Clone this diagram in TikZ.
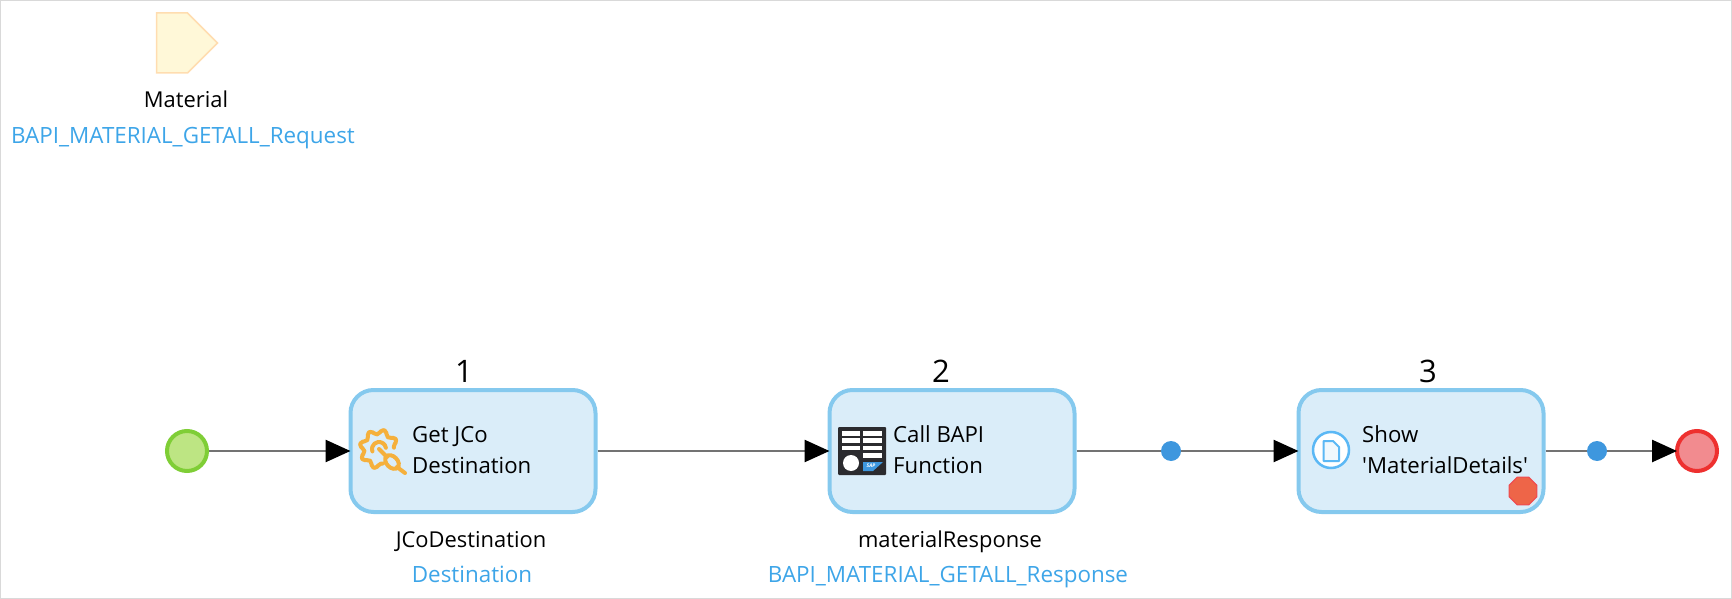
\documentclass[tikz,border=0pt]{standalone}
\usepackage{fontspec}
\setmainfont{Open Sans}
\usetikzlibrary{arrows.meta,shapes.geometric,shapes.symbols}
\definecolor{paramfill}{HTML}{FFF8D8}
\definecolor{paramline}{HTML}{FFDDB0}
\definecolor{boxfill}{HTML}{DAEDF9}
\definecolor{boxline}{HTML}{85C9EE}
\definecolor{startfill}{HTML}{BDE583}
\definecolor{startline}{HTML}{7FCE36}
\definecolor{endfill}{HTML}{F28B8F}
\definecolor{endline}{HTML}{EE302F}
\definecolor{dotblue}{HTML}{3E97DE}
\definecolor{typeblue}{HTML}{3DA5E8}
\definecolor{gearorange}{HTML}{F5B03C}
\definecolor{docblue}{HTML}{5BB8F5}
\definecolor{tabledark}{HTML}{2B2B2F}
\definecolor{stopfill}{HTML}{EE6548}
\definecolor{stopline}{HTML}{EE4A50}
\tikzset{
  actionbox/.style={rectangle, rounded corners=23pt, minimum width=245pt, minimum height=122pt, fill=boxfill, line width=4pt, draw=boxline},
  paramshape/.style={signal, signal to=east, signal pointer angle=90, minimum width=61pt, minimum height=60pt, fill=paramfill, line width=1.5pt, draw=paramline},
  startevent/.style={circle, minimum size=40pt, fill=startfill, line width=4pt, draw=startline},
  endevent/.style={circle, minimum size=40pt, fill=endfill, line width=4pt, draw=endline},
  mergedot/.style={circle, minimum size=20pt, fill=dotblue},
  boxtext/.style={anchor=west, align=left, font=\fontsize{22.2pt}{31pt}\selectfont},
  varname/.style={anchor=base, font=\fontsize{21.9pt}{25pt}\selectfont},
  vartype/.style={anchor=base, font=\fontsize{22.4pt}{25pt}\selectfont, text=typeblue},
  stepnumber/.style={anchor=base, font=\fontsize{31pt}{34pt}\selectfont},
  flow/.style={line width=2.6pt, color=black!55},
  flowtip/.style={flow, shorten >=-2pt, -{Triangle[length=25pt,width=22pt,color=black]}},
  gearpath/.style={line width=4pt, color=gearorange, line join=round, line cap=round},
}
\begin{document}
\begin{tikzpicture}
[every node/.style={inner sep=0pt}]
\useasboundingbox (0pt,0pt) rectangle (1732pt,-599pt);
\draw [line width=2pt, color=black!15] (0pt,0pt) rectangle (1732pt,-599pt);
% parameter
\node (material) [paramshape] at (172pt, -43pt) {};
\node (materialname) [varname] at (186pt, -108pt) {Material};
\node (materialtype) [vartype] at (183pt, -143pt) {BAPI\_MATERIAL\_GETALL\_Request};
% flow
\node (start) [startevent] at (187pt, -451pt) {};
\node (jco) [actionbox] at (473pt, -451pt) {};
\node (bapi) [actionbox] at (952pt, -451pt) {};
\node (show) [actionbox] at (1421pt, -451pt) {};
\node (dotone) [mergedot] at (1171pt, -451pt) {};
\node (dottwo) [mergedot] at (1597pt, -451pt) {};
\node (end) [endevent] at (1697pt, -451pt) {};
\node (stop) [regular polygon, regular polygon sides=8, minimum size=30pt, fill=stopfill, line width=1pt, draw=stopline] at (1523pt, -491pt) {};
\draw [flowtip] (start) to (jco);
\draw [flowtip] (jco) to (bapi);
\draw [flow] (bapi) to (dotone);
\draw [flowtip] (dotone) to (show);
\draw [flow] (show) to (dottwo);
\draw [flowtip] (dottwo) to (end);
% numbers
\node (numone) [stepnumber] at (464pt, -382pt) {1};
\node (numtwo) [stepnumber] at (941pt, -382pt) {2};
\node (numthree) [stepnumber] at (1428pt, -382pt) {3};
% box texts
\node (jcotext) [boxtext] at (412pt, -450pt) {Get JCo\\Destination};
\node (bapitext) [boxtext] at (893pt, -450pt) {Call BAPI\\Function};
\node (showtext) [boxtext] at (1362pt, -450pt) {Show\\\textquotesingle MaterialDetails\textquotesingle};
% output variables
\node (jconame) [varname] at (471pt, -547pt) {JCoDestination};
\node (jcotype) [vartype] at (472pt, -582pt) {Destination};
\node (bapiname) [varname] at (950pt, -547pt) {materialResponse};
\node (bapitype) [vartype] at (948pt, -582pt) {BAPI\_MATERIAL\_GETALL\_Response};
% gear icon
\begin{scope}[shift={(379pt,-449pt)}]
\draw [gearpath, rounded corners=2pt] (5:15pt) \foreach \a in {30,75,120,165,210,255} { -- (\a-14:15pt) -- (\a-8:19.5pt) -- (\a+8:19.5pt) -- (\a+14:15pt)} -- (285:15pt);
\draw [gearpath] (10:7pt) arc [start angle=10, end angle=200, radius=7pt];
\draw [gearpath] (0pt,0pt) -- (8pt,-8pt);
\draw [gearpath, rotate around={-45:(13pt,-13pt)}] (13pt,-13pt) ellipse [x radius=8pt, y radius=5.5pt];
\draw [gearpath] (18pt,-18pt) -- (26pt,-24pt);
\end{scope}
% table icon
\fill [tabledark, rounded corners=1pt] (838pt,-427pt) rectangle (886pt,-475pt);
\fill [white] (842pt,-431pt) rectangle (860pt,-436pt);
\fill [white] (863pt,-431pt) rectangle (882pt,-436pt);
\fill [white] (842pt,-438pt) rectangle (860pt,-443pt);
\fill [white] (863pt,-438pt) rectangle (882pt,-443pt);
\fill [white] (842pt,-446pt) rectangle (860pt,-450pt);
\fill [white] (863pt,-446pt) rectangle (882pt,-450pt);
\fill [white] (863pt,-453pt) rectangle (882pt,-458pt);
\fill [white] (851pt,-463pt) circle [radius=8pt];
\fill [dotblue] (863pt,-462pt) -- (883pt,-462pt) -- (873pt,-471pt) -- (863pt,-471pt) -- cycle;
\node (saplogo) [text=white, font=\fontsize{5pt}{5pt}\selectfont\bfseries\itshape] at (871pt, -466pt) {SAP};
% page icon
\draw [line width=2.5pt, draw=docblue, fill=white] (1331pt,-450pt) circle [radius=18pt];
\draw [line width=2pt, draw=docblue, fill=boxfill!40, line join=round] (1323.5pt,-441pt) -- (1333pt,-441pt) -- (1339pt,-447pt) -- (1339pt,-461pt) -- (1323.5pt,-461pt) -- cycle;
\end{tikzpicture}
\end{document}
